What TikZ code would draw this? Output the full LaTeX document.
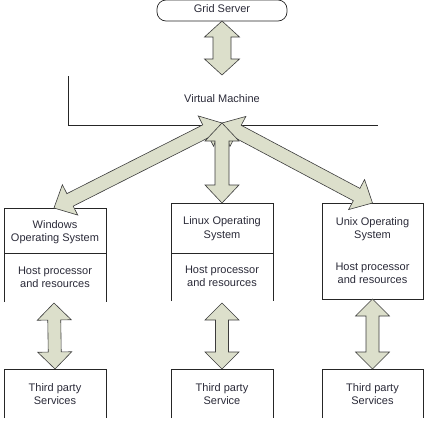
\documentclass[tikz,border=0pt]{standalone}
\usepackage{fontspec}
\setmainfont{Liberation Sans}
\usetikzlibrary{calc}
\definecolor{arrowfill}{HTML}{DCDFCB}
\definecolor{edgecol}{HTML}{3C3C3C}
\definecolor{txtcol}{HTML}{2A2A38}
% double arrow from #1 to #2: shaft half width #3, head half width #4, head length #5
\newcommand\dblarrow[5]{%
  \filldraw[dbarrow] (#1)
    -- ($(#1)!#5!(#2)!#4!90:(#2)$) -- ($(#1)!#5!(#2)!#3!90:(#2)$)
    -- ($(#2)!#5!(#1)!#3!-90:(#1)$) -- ($(#2)!#5!(#1)!#4!-90:(#1)$)
    -- (#2)
    -- ($(#2)!#5!(#1)!#4!90:(#1)$) -- ($(#2)!#5!(#1)!#3!90:(#1)$)
    -- ($(#1)!#5!(#2)!#3!-90:(#2)$) -- ($(#1)!#5!(#2)!#4!-90:(#2)$)
    -- cycle;}
\begin{document}
\begin{tikzpicture}[x=1pt,y=-1pt,
  dbarrow/.style={fill=arrowfill,draw=edgecol,line width=0.6pt,line join=miter},
  outline/.style={draw=black!85,line width=0.7pt},
  label/.style={font=\fontsize{11}{13.5}\selectfont,text=txtcol,align=center,inner sep=0pt},
  region/.style={inner sep=0pt,outer sep=0pt}]
\useasboundingbox (0,0) rectangle (427,429);

% Grid Server
\node[region,minimum width=130pt,minimum height=21pt] (gs) at (222,10.5) {};
\draw[outline,rounded corners=9pt] (gs.south west) rectangle (gs.north east);
\node[label] (gstext) at (222,9) {Grid Server};

% Virtual Machine (open frame)
\coordinate (vmtop) at (68,76);
\coordinate (vmcorner) at (68,125);
\coordinate (vmend) at (378,125);
\draw[outline] (vmtop) -- (vmcorner) -- (vmend);
\node[label] (vmtext) at (222,99) {Virtual Machine};
\coordinate (vmin) at (222,75);
\coordinate (hub) at (222,123);

% Windows box (open at the bottom)
\node[region,minimum width=102pt,minimum height=94pt] (win) at (55,255) {};
\draw[outline] (win.south west) -- (win.north west) -- (win.north east) -- (win.south east);
\draw[outline] (4,253) -- (106,253);
\node[label] (winos) at (55,232) {Windows\\Operating System};
\node[label] (winhost) at (55,277.5) {Host processor\\and resources};

% Linux box (open at the bottom)
\node[region,minimum width=102pt,minimum height=98pt] (lin) at (222,252) {};
\draw[outline] (lin.south west) -- (lin.north west) -- (lin.north east) -- (lin.south east);
\draw[outline] (171,253) -- (273,253);
\node[label] (linos) at (222,228.5) {Linux Operating\\System};
\node[label] (linhost) at (222,276.5) {Host processor\\and resources};

% Unix box (closed)
\node[region,outline,minimum width=101pt,minimum height=96pt] (unx) at (372.5,251) {};
\node[label] (unxos) at (372.5,229) {Unix Operating\\System};
\node[label] (unxhost) at (372.5,273.5) {Host processor\\and resources};

% Third party boxes (open at the bottom)
\node[region,minimum width=102pt,minimum height=49pt] (tpw) at (55,393.5) {};
\draw[outline] (tpw.south west) -- (tpw.north west) -- (tpw.north east) -- (tpw.south east);
\node[label] (tpwtext) at (55,394) {Third party\\Services};
\node[region,minimum width=102pt,minimum height=49pt] (tpl) at (222,393.5) {};
\draw[outline] (tpl.south west) -- (tpl.north west) -- (tpl.north east) -- (tpl.south east);
\node[label] (tpltext) at (222,394) {Third party\\Service};
\node[region,minimum width=101pt,minimum height=49pt] (tpu) at (372.5,393.5) {};
\draw[outline] (tpu.south west) -- (tpu.north west) -- (tpu.north east) -- (tpu.south east);
\node[label] (tputext) at (372.5,394) {Third party\\Services};

% arrow end points on the boxes
\coordinate (winN) at ($(win.north west)!0.49!(win.north east)$);
\coordinate (unxN) at ($(unx.north west)!0.5!(unx.north east)$);
\coordinate (winS) at (54,303);
\coordinate (linS) at (222,303);

% arrows
\dblarrow{gs.south}{vmin}{9pt}{17.5pt}{16pt}
\dblarrow{hub}{winN}{7pt}{17pt}{18pt}
\dblarrow{hub}{unxN}{7pt}{17pt}{18pt}
\dblarrow{hub}{lin.north}{7pt}{17pt}{18pt}
\dblarrow{winS}{tpw.north}{6.5pt}{17pt}{17pt}
\dblarrow{linS}{tpl.north}{6.5pt}{17pt}{17pt}
\dblarrow{unx.south}{tpu.north}{6.5pt}{17pt}{17pt}
\end{tikzpicture}
\end{document}
